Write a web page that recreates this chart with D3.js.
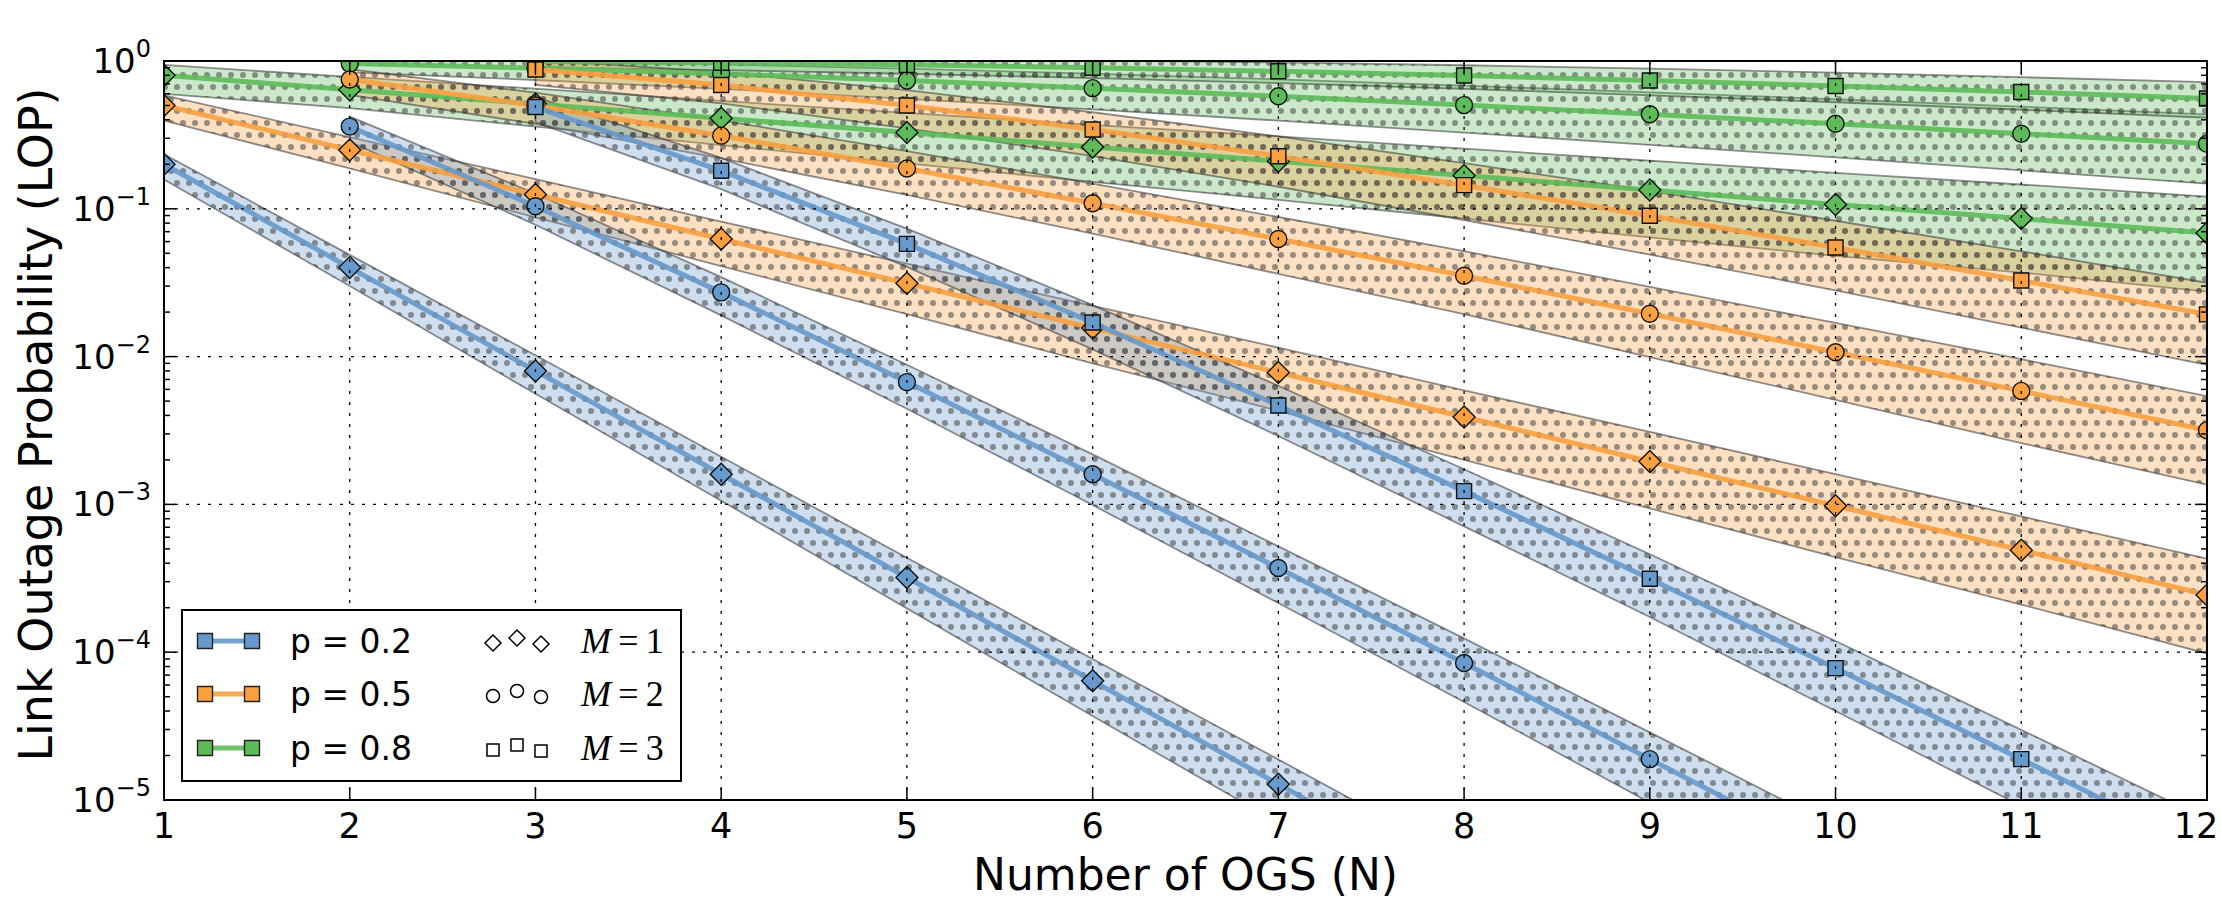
<!DOCTYPE html>
<html>
<head>
<meta charset="utf-8">
<script src="https://cdn.jsdelivr.net/npm/d3@7"></script>
<style>
  body { margin: 0; background: #fff; }
  svg { display: block; }
</style>
</head>
<body>
<div id="chart"></div>
<script>
// Data
const nValues = [1, 2, 3, 4, 5, 6, 7, 8, 9, 10, 11, 12];
const pLabels = ["p = 0.2", "p = 0.5", "p = 0.8"];
const mLabels = ["1", "2", "3"];
const yExponents = [0, -1, -2, -3, -4, -5];

// p = 0.2
const lopP02M1 = [0.2, 0.04, 0.008, 0.0016, 3.2e-4, 6.4e-5, 1.28e-5, 2.56e-6, 5.12e-7, 1.02e-7, 2.05e-8, 4.1e-9];
const hiP02M1  = [0.234, 0.0488, 0.0102, 0.0021, 4.35e-4, 9.0e-5, 1.88e-5, 3.9e-6, 8.1e-7, 1.67e-7, 3.5e-8, 7.2e-9];
const loP02M1  = [0.158, 0.030, 0.0056, 0.00106, 1.98e-4, 3.7e-5, 7.0e-6, 1.31e-6, 2.46e-7, 4.6e-8, 8.8e-9, 1.64e-9];
const lopP02M2 = [0.36, 0.104, 0.0272, 0.00672, 0.0016, 3.71e-4, 8.45e-5, 1.89e-5, 4.2e-6, 9.2e-7, 2.0e-7];
const hiP02M2  = [0.42, 0.127, 0.0345, 0.0088, 0.00218, 5.2e-4, 1.24e-4, 2.87e-5, 6.6e-6, 1.51e-6, 3.4e-7];
const loP02M2  = [0.284, 0.078, 0.019, 0.00444, 9.9e-4, 2.15e-4, 4.6e-5, 9.6e-6, 2.0e-6, 4.1e-7, 8.6e-8];
const lopP02M3 = [0.488, 0.181, 0.0579, 0.017, 0.00467, 0.00123, 3.14e-4, 7.8e-5, 1.89e-5, 4.5e-6];
const hiP02M3  = [0.57, 0.221, 0.0735, 0.0223, 0.00635, 0.00173, 4.6e-4, 1.19e-4, 2.98e-5, 7.4e-6];
const loP02M3  = [0.386, 0.136, 0.0405, 0.0112, 0.0029, 7.1e-4, 1.73e-4, 4.0e-5, 9.1e-6, 2.0e-6];

// p = 0.5
const lopP05M1 = [0.5, 0.25, 0.125, 0.0625, 0.0313, 0.0156, 0.0078, 0.0039, 0.00195, 9.8e-4, 4.9e-4, 2.44e-4];
const hiP05M1  = [0.585, 0.305, 0.159, 0.082, 0.0425, 0.022, 0.0115, 0.0059, 0.0031, 0.0016, 8.3e-4, 4.3e-4];
const loP05M1  = [0.395, 0.188, 0.0875, 0.041, 0.0194, 0.009, 0.0043, 0.002, 9.4e-4, 4.4e-4, 2.1e-4, 9.8e-5];
const lopP05M2 = [0.75, 0.5, 0.3125, 0.1875, 0.109, 0.0625, 0.0352, 0.0195, 0.0107, 0.00586, 0.00317];
const hiP05M2  = [0.88, 0.61, 0.397, 0.246, 0.148, 0.088, 0.0517, 0.0296, 0.0169, 0.0096, 0.0054];
const loP05M2  = [0.59, 0.375, 0.219, 0.124, 0.068, 0.0363, 0.0194, 0.0099, 0.0051, 0.0026, 0.00136];
const lopP05M3 = [0.875, 0.6875, 0.5, 0.344, 0.227, 0.1445, 0.0898, 0.0547, 0.0327, 0.0193];
const hiP05M3  = [1.02, 0.84, 0.635, 0.45, 0.309, 0.204, 0.132, 0.083, 0.0516, 0.0316];
const loP05M3  = [0.69, 0.516, 0.35, 0.227, 0.141, 0.084, 0.049, 0.0281, 0.0157, 0.0088];

// p = 0.8
const lopP08M1 = [0.8, 0.64, 0.512, 0.41, 0.328, 0.262, 0.21, 0.168, 0.134, 0.107, 0.0859, 0.0687];
const hiP08M1  = [0.94, 0.78, 0.65, 0.537, 0.446, 0.37, 0.309, 0.255, 0.212, 0.175, 0.146, 0.121];
const loP08M1  = [0.6, 0.48, 0.36, 0.27, 0.203, 0.152, 0.115, 0.086, 0.064, 0.048, 0.037, 0.0275];
const lopP08M2 = [0.96, 0.896, 0.819, 0.737, 0.655, 0.577, 0.503, 0.436, 0.376, 0.322, 0.275];
const hiP08M2  = [1.03, 0.998, 0.949, 0.888, 0.821, 0.752, 0.682, 0.614, 0.551, 0.491, 0.436];
const loP08M2  = [0.836, 0.744, 0.648, 0.555, 0.47, 0.395, 0.328, 0.271, 0.223, 0.182, 0.148];
const lopP08M3 = [0.992, 0.973, 0.942, 0.901, 0.852, 0.797, 0.738, 0.678, 0.617, 0.558];
const hiP08M3  = [1.039, 1.043, 1.032, 1.011, 0.978, 0.936, 0.887, 0.834, 0.777, 0.719];
const loP08M3  = [0.905, 0.867, 0.82, 0.767, 0.709, 0.648, 0.586, 0.526, 0.468, 0.413];

const colors = ["#6699CC", "#FAA040", "#5DBB5A"];

// series table (M = first N of the series); drawn green, orange, blue
const series = [
  { p: 2, m: 1, v: lopP08M1, lo: loP08M1, hi: hiP08M1 },
  { p: 2, m: 2, v: lopP08M2, lo: loP08M2, hi: hiP08M2 },
  { p: 2, m: 3, v: lopP08M3, lo: loP08M3, hi: hiP08M3 },
  { p: 1, m: 1, v: lopP05M1, lo: loP05M1, hi: hiP05M1 },
  { p: 1, m: 2, v: lopP05M2, lo: loP05M2, hi: hiP05M2 },
  { p: 1, m: 3, v: lopP05M3, lo: loP05M3, hi: hiP05M3 },
  { p: 0, m: 1, v: lopP02M1, lo: loP02M1, hi: hiP02M1 },
  { p: 0, m: 2, v: lopP02M2, lo: loP02M2, hi: hiP02M2 },
  { p: 0, m: 3, v: lopP02M3, lo: loP02M3, hi: hiP02M3 }
].map(s => ({
  ...s,
  pts: s.v.map((d, i) => ({ n: nValues[i + s.m - 1], v: d, lo: s.lo[i], hi: s.hi[i] }))
}));

// Layout
const width = 2221;
const height = 903;
const plot = { left: 164, top: 61, right: 2207, bottom: 800 };

const svg = d3.select("#chart")
  .append("svg")
  .attr("width", width)
  .attr("height", height)
  .attr("font-family", "DejaVu Sans, sans-serif");

const x = d3.scaleLinear().domain([1, 12]).range([plot.left, plot.right]);
const y = d3.scaleLog().domain([1e-5, 1]).range([plot.bottom, plot.top]);

const defs = svg.append("defs");
defs.append("clipPath").attr("id", "plotClip")
  .append("rect")
  .attr("x", plot.left).attr("y", plot.top)
  .attr("width", plot.right - plot.left).attr("height", plot.bottom - plot.top);

// dotted hatch, same origin for every band so overlaps darken
const pat = defs.append("pattern").attr("id", "dots")
  .attr("patternUnits", "userSpaceOnUse")
  .attr("width", 12).attr("height", 24);
pat.append("circle").attr("cx", 3).attr("cy", 3).attr("r", 3).attr("fill", "#444").attr("fill-opacity", 0.55);
pat.append("circle").attr("cx", 9).attr("cy", 15).attr("r", 3).attr("fill", "#444").attr("fill-opacity", 0.55);

const clipped = svg.append("g").attr("clip-path", "url(#plotClip)");

// Bands
const area = d3.area()
  .x(d => x(d.n))
  .y0(d => y(d.lo))
  .y1(d => y(d.hi));

const bands = clipped.append("g");
series.forEach(s => {
  const g = bands.append("g");
  g.append("path").attr("d", area(s.pts))
    .attr("fill", colors[s.p]).attr("fill-opacity", 0.32);
  g.append("path").attr("d", area(s.pts))
    .attr("fill", "url(#dots)");
  g.append("path").attr("d", area(s.pts) + "Z")
    .attr("fill", "none").attr("stroke", "#333").attr("stroke-opacity", 0.55)
    .attr("stroke-width", 1.8);
});

// Marker shapes
function markerPath(m, r) {
  if (m === 1) return `M0,${-r}L${r},0L0,${r}L${-r},0Z`;
  if (m === 2) return d3.symbol(d3.symbolCircle, Math.PI * r * r)();
  return `M${-r},${-r}H${r}V${r}H${-r}Z`;
}
const markerSize = { 1: 11, 2: 8.5, 3: 7.5 };

// Lines and markers
const line = d3.line().x(d => x(d.n)).y(d => y(d.v));
const lines = clipped.append("g");
series.forEach(s => {
  const g = lines.append("g");
  g.append("path").attr("d", line(s.pts))
    .attr("fill", "none")
    .attr("stroke", colors[s.p]).attr("stroke-opacity", 0.9)
    .attr("stroke-width", 5);
  g.selectAll("path.mk").data(s.pts).join("path")
    .attr("class", "mk")
    .attr("d", markerPath(s.m, markerSize[s.m]))
    .attr("transform", d => `translate(${x(d.n)},${y(d.v)})`)
    .attr("fill", colors[s.p])
    .attr("stroke", "#111").attr("stroke-width", 1.4);
});

// Grid (drawn over the data, as in the reference)
const grid = svg.append("g").attr("stroke", "#000").attr("stroke-width", 1.3)
  .attr("stroke-dasharray", "3,8");
grid.selectAll("line.gx").data(nValues).join("line")
  .attr("x1", d => x(d)).attr("x2", d => x(d))
  .attr("y1", plot.top).attr("y2", plot.bottom);
grid.selectAll("line.gy").data(yExponents).join("line")
  .attr("x1", plot.left).attr("x2", plot.right)
  .attr("y1", d => y(Math.pow(10, d))).attr("y2", d => y(Math.pow(10, d)));

// Ticks (inward, on all sides)
const ticks = svg.append("g").attr("stroke", "#000").attr("stroke-width", 1.5);
nValues.forEach(n => {
  ticks.append("line").attr("x1", x(n)).attr("x2", x(n)).attr("y1", plot.bottom).attr("y2", plot.bottom - 12);
  ticks.append("line").attr("x1", x(n)).attr("x2", x(n)).attr("y1", plot.top).attr("y2", plot.top + 12);
});
yExponents.forEach(e => {
  const yy = y(Math.pow(10, e));
  ticks.append("line").attr("x1", plot.left).attr("x2", plot.left + 12).attr("y1", yy).attr("y2", yy);
  ticks.append("line").attr("x1", plot.right).attr("x2", plot.right - 12).attr("y1", yy).attr("y2", yy);
  if (e < 0) {
    d3.range(2, 10).forEach(k => {
      const ym = y(k * Math.pow(10, e));
      ticks.append("line").attr("x1", plot.left).attr("x2", plot.left + 6).attr("y1", ym).attr("y2", ym);
      ticks.append("line").attr("x1", plot.right).attr("x2", plot.right - 6).attr("y1", ym).attr("y2", ym);
    });
  }
});

// Frame
svg.append("rect")
  .attr("x", plot.left).attr("y", plot.top)
  .attr("width", plot.right - plot.left).attr("height", plot.bottom - plot.top)
  .attr("fill", "none").attr("stroke", "#000").attr("stroke-width", 2);

// Tick labels (last one kept inside the page edge)
svg.append("g").selectAll("text").data(nValues).join("text")
  .attr("x", d => Math.min(x(d), width - 25)).attr("y", 838)
  .attr("text-anchor", "middle").attr("font-size", 35)
  .text(d => d);

svg.append("g").selectAll("text").data(yExponents).join("text")
  .attr("x", 151).attr("y", d => y(Math.pow(10, d)) + 12)
  .attr("text-anchor", "end").attr("font-size", 34)
  .each(function (d) {
    const t = d3.select(this);
    t.append("tspan").text("10");
    t.append("tspan").attr("dy", -16).attr("font-size", 24)
      .text(d === 0 ? "0" : "\u2212" + (-d));
  });

// Axis titles
svg.append("text")
  .attr("x", (plot.left + plot.right) / 2).attr("y", 890)
  .attr("text-anchor", "middle").attr("font-size", 44)
  .text("Number of OGS (N)");

svg.append("text")
  .attr("transform", `translate(52,${(plot.top + plot.bottom) / 2 - 6}) rotate(-90)`)
  .attr("text-anchor", "middle").attr("font-size", 46)
  .text("Link Outage Probability (LOP)");

// Legend
const legend = svg.append("g");
legend.append("rect")
  .attr("x", 182).attr("y", 610).attr("width", 499).attr("height", 171)
  .attr("fill", "#fff").attr("stroke", "#000").attr("stroke-width", 2);

const rowY = [641, 694, 748];
pLabels.forEach((lab, i) => {
  const g = legend.append("g");
  g.append("line").attr("x1", 205).attr("x2", 252).attr("y1", rowY[i]).attr("y2", rowY[i])
    .attr("stroke", colors[i]).attr("stroke-opacity", 0.9).attr("stroke-width", 5);
  [205, 252].forEach(cx => {
    g.append("path").attr("d", markerPath(3, 7.5))
      .attr("transform", `translate(${cx},${rowY[i]})`)
      .attr("fill", colors[i]).attr("stroke", "#222").attr("stroke-width", 1.4);
  });
  g.append("text").attr("x", 290).attr("y", rowY[i] + 12)
    .attr("font-size", 33).text(lab);
});

const legendMarkerX = [493, 517, 541];
const legendMarkerDy = [2, -3, 3];
const legendMarkerR = { 1: 8, 2: 6.5, 3: 6 };
mLabels.forEach((lab, i) => {
  const m = i + 1;
  const g = legend.append("g");
  legendMarkerX.forEach((cx, j) => {
    g.append("path").attr("d", markerPath(m, legendMarkerR[m]))
      .attr("transform", `translate(${cx},${rowY[i] + legendMarkerDy[j]})`)
      .attr("fill", "#fff").attr("stroke", "#000").attr("stroke-width", 1.5);
  });
  const t = g.append("text").attr("x", 581).attr("y", rowY[i] + 12)
    .attr("font-family", "Liberation Serif, serif").attr("font-size", 36);
  t.append("tspan").attr("font-style", "italic").text("M");
  t.append("tspan").text("\u2009=\u2009" + lab);
});
</script>
</body>
</html>
